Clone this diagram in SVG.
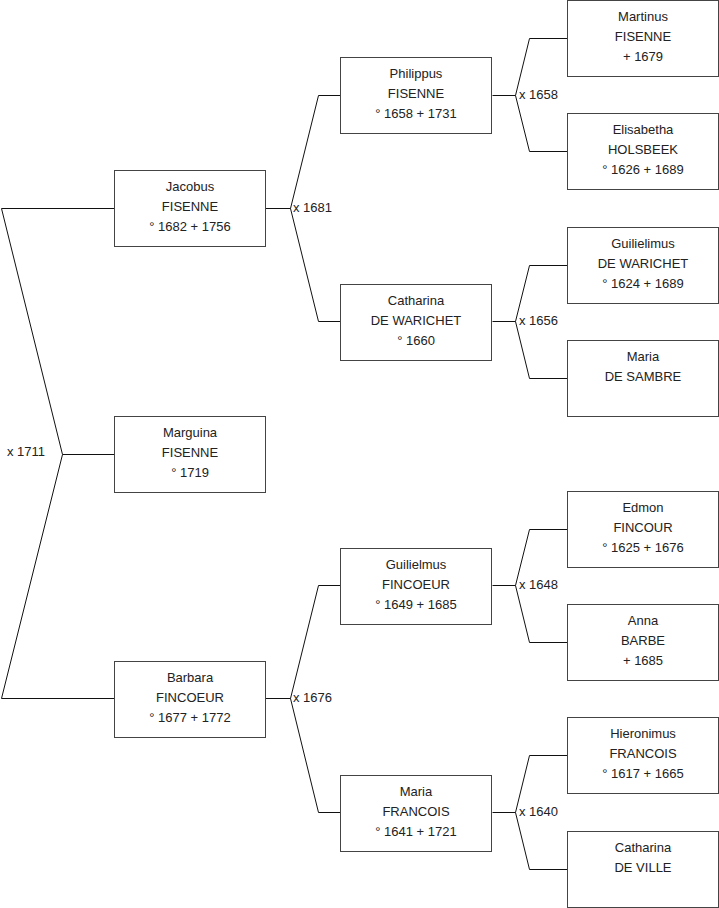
<svg xmlns="http://www.w3.org/2000/svg" width="719" height="908" viewBox="0 0 719 908">
<style>
.box{fill:#fff;stroke:#444;stroke-width:1}
.t{font-family:"Liberation Sans",Arial,sans-serif;font-size:13px;fill:#222;text-anchor:middle}
.l{font-family:"Liberation Sans",Arial,sans-serif;font-size:13px;fill:#222}
.c{fill:none;stroke:#111;stroke-width:1}
</style>
<rect width="719" height="908" fill="#fff"/>
<g id="connectors">
<path class="c" d="M114.5,208.5H1.5L62.5,454.5L1.5,698.5H114.5M62.5,454.5H114.5"/>
<path class="c" d="M265.5,208.5H290.5M340.5,95.5H318.5L290.5,208.5L318.5,321.5H340.5"/>
<path class="c" d="M265.5,698.5H290.5M340.5,585.5H318.5L290.5,698.5L318.5,812.5H340.5"/>
<path class="c" d="M492.5,95.5H515.5M567.5,38.5H529.5L515.5,95.5L529.5,151.5H567.5"/>
<path class="c" d="M492.5,321.5H515.5M567.5,265.5H529.5L515.5,321.5L529.5,378.5H567.5"/>
<path class="c" d="M492.5,585.5H515.5M567.5,529.5H529.5L515.5,585.5L529.5,642.5H567.5"/>
<path class="c" d="M492.5,812.5H515.5M567.5,755.5H529.5L515.5,812.5L529.5,869.5H567.5"/>
<text class="l" x="7" y="456">x 1711</text>
<text class="l" x="293" y="212">x 1681</text>
<text class="l" x="293" y="702">x 1676</text>
<text class="l" x="519" y="99">x 1658</text>
<text class="l" x="519" y="325">x 1656</text>
<text class="l" x="519" y="589">x 1648</text>
<text class="l" x="519" y="816">x 1640</text>
</g>
<g id="jacobus"><rect class="box" x="114.5" y="170.5" width="151" height="76"/><text class="t" x="190" y="191">Jacobus</text><text class="t" x="190" y="211">FISENNE</text><text class="t" x="190" y="231">° 1682 + 1756</text></g>
<g id="marguina"><rect class="box" x="114.5" y="416.5" width="151" height="76"/><text class="t" x="190" y="437">Marguina</text><text class="t" x="190" y="457">FISENNE</text><text class="t" x="190" y="477">° 1719</text></g>
<g id="barbara"><rect class="box" x="114.5" y="661.5" width="151" height="76"/><text class="t" x="190" y="682">Barbara</text><text class="t" x="190" y="702">FINCOEUR</text><text class="t" x="190" y="722">° 1677 + 1772</text></g>
<g id="philippus"><rect class="box" x="340.5" y="57.5" width="151" height="76"/><text class="t" x="416" y="78">Philippus</text><text class="t" x="416" y="98">FISENNE</text><text class="t" x="416" y="118">° 1658 + 1731</text></g>
<g id="catharina1"><rect class="box" x="340.5" y="284.5" width="151" height="76"/><text class="t" x="416" y="305">Catharina</text><text class="t" x="416" y="325">DE WARICHET</text><text class="t" x="416" y="345">° 1660</text></g>
<g id="guilielmus"><rect class="box" x="340.5" y="548.5" width="151" height="76"/><text class="t" x="416" y="569">Guilielmus</text><text class="t" x="416" y="589">FINCOEUR</text><text class="t" x="416" y="609">° 1649 + 1685</text></g>
<g id="maria1"><rect class="box" x="340.5" y="775.5" width="151" height="76"/><text class="t" x="416" y="796">Maria</text><text class="t" x="416" y="816">FRANCOIS</text><text class="t" x="416" y="836">° 1641 + 1721</text></g>
<g id="martinus"><rect class="box" x="567.5" y="0.5" width="151" height="76"/><text class="t" x="643" y="21">Martinus</text><text class="t" x="643" y="41">FISENNE</text><text class="t" x="643" y="61">+ 1679</text></g>
<g id="elisabetha"><rect class="box" x="567.5" y="113.5" width="151" height="76"/><text class="t" x="643" y="134">Elisabetha</text><text class="t" x="643" y="154">HOLSBEEK</text><text class="t" x="643" y="174">° 1626 + 1689</text></g>
<g id="guilielimus"><rect class="box" x="567.5" y="227.5" width="151" height="76"/><text class="t" x="643" y="248">Guilielimus</text><text class="t" x="643" y="268">DE WARICHET</text><text class="t" x="643" y="288">° 1624 + 1689</text></g>
<g id="maria2"><rect class="box" x="567.5" y="340.5" width="151" height="76"/><text class="t" x="643" y="361">Maria</text><text class="t" x="643" y="381">DE SAMBRE</text></g>
<g id="edmon"><rect class="box" x="567.5" y="491.5" width="151" height="76"/><text class="t" x="643" y="512">Edmon</text><text class="t" x="643" y="532">FINCOUR</text><text class="t" x="643" y="552">° 1625 + 1676</text></g>
<g id="anna"><rect class="box" x="567.5" y="604.5" width="151" height="76"/><text class="t" x="643" y="625">Anna</text><text class="t" x="643" y="645">BARBE</text><text class="t" x="643" y="665">+ 1685</text></g>
<g id="hieronimus"><rect class="box" x="567.5" y="717.5" width="151" height="76"/><text class="t" x="643" y="738">Hieronimus</text><text class="t" x="643" y="758">FRANCOIS</text><text class="t" x="643" y="778">° 1617 + 1665</text></g>
<g id="catharina2"><rect class="box" x="567.5" y="831.5" width="151" height="76"/><text class="t" x="643" y="852">Catharina</text><text class="t" x="643" y="872">DE VILLE</text></g>
</svg>
